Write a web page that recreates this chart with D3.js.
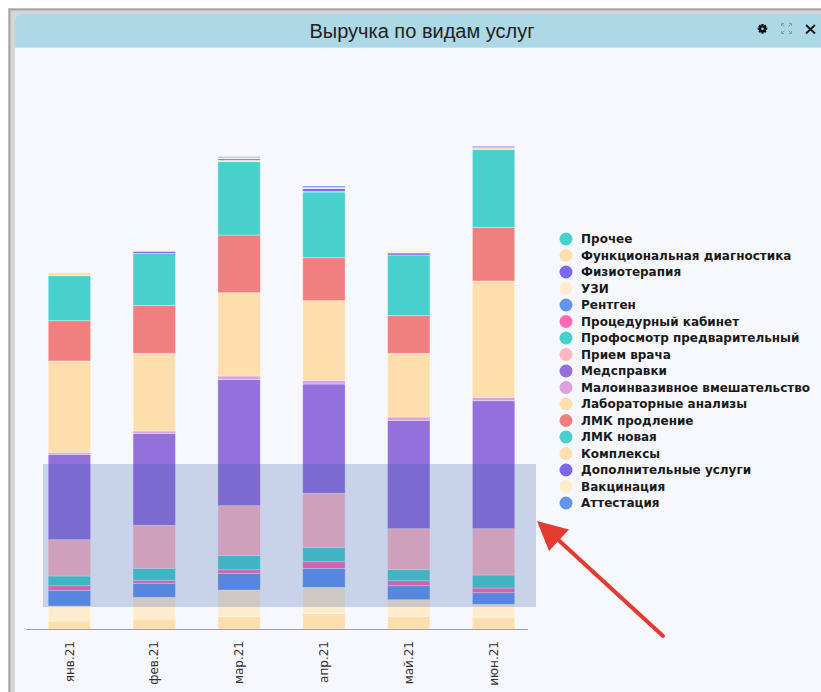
<!DOCTYPE html>
<html>
<head>
<meta charset="utf-8">
<script src="https://cdn.jsdelivr.net/npm/d3@7"></script>
<style>
  html, body { margin: 0; padding: 0; background: #ffffff; }
  svg { display: block; }
</style>
</head>
<body>
<svg id="chart" width="821" height="692"></svg>
<script>
// Months on the x axis
const months = ["янв.21", "фев.21", "мар.21", "апр.21", "май.21", "июн.21"];

// Service types, in stacking order from the bottom of each bar upward
const services = [
  "Прочее", "Функциональная диагностика", "Физиотерапия", "УЗИ", "Рентген",
  "Процедурный кабинет", "Профосмотр предварительный", "Прием врача", "Медсправки",
  "Малоинвазивное вмешательство", "Лабораторные анализы", "ЛМК продление",
  "ЛМК новая", "Комплексы", "Дополнительные услуги", "Вакцинация", "Аттестация"
];

// Revenue per service, thousand roubles, one value per month
const prochee        = [0, 0, 0, 0, 0, 0];
const funkcDiag      = [80, 100, 123, 157, 127, 113];
const fizio          = [0, 0, 0, 0, 0, 0];
const uzi            = [150, 217, 267, 260, 166, 134];
const rentgen        = [157, 137, 167, 190, 140, 116];
const procedurnyi    = [46, 33, 36, 66, 50, 47];
const profosmotr     = [97, 120, 144, 144, 110, 130];
const priemVracha    = [363, 430, 496, 540, 410, 463];
const medspravki     = [854, 920, 1264, 1093, 1084, 1280];
const maloinvaziv    = [20, 23, 33, 33, 33, 34];
const laboratornye   = [913, 777, 833, 800, 637, 1163];
const lmkProdlenie   = [403, 477, 577, 430, 376, 537];
const lmkNovaya      = [450, 523, 733, 657, 607, 780];
const kompleksy      = [30, 0, 15, 5, 0, 17];
const dopUslugi      = [0, 20, 15, 30, 20, 13];
const vakcinaciya    = [0, 13, 10, 10, 27, 0];
const attestaciya    = [0, 0, 10, 15, 0, 0];

const seriesValues = [
  prochee, funkcDiag, fizio, uzi, rentgen, procedurnyi, profosmotr, priemVracha,
  medspravki, maloinvaziv, laboratornye, lmkProdlenie, lmkNovaya, kompleksy,
  dopUslugi, vakcinaciya, attestaciya
];

const serviceColors = [
  "#48d1cc", "#ffdead", "#7b68ee", "#ffebcd", "#6495ed", "#ff69b4", "#48d1cc",
  "#ffb6c1", "#9370db", "#dda0dd", "#ffdead", "#f08080", "#48d1cc", "#ffdead",
  "#7b68ee", "#ffebcd", "#6495ed"
];

// Highlighted value band (thousand roubles)
const highlightBand = [220, 1650];

// Build row-per-month table for d3.stack
const table = months.map((m, i) => {
  const row = { month: m };
  services.forEach((s, j) => { row[s] = seriesValues[j][i]; });
  return row;
});

const svg = d3.select("#chart");
const W = 821, H = 692;

// ---- window frame ----
svg.append("rect").attr("x", 8).attr("y", 8).attr("width", W).attr("height", H)
  .attr("fill", "#d6d6d6");
svg.append("path").attr("d", `M9.5,${H} V9.5 H${W}`)
  .attr("fill", "none").attr("stroke", "#a8a8a8").attr("stroke-width", 2);

// panel with rounded top-left corner
const px = 15, py = 14, r = 7;
svg.append("path")
  .attr("d", `M${px},${H} V${py + r} Q${px},${py} ${px + r},${py} H${W} V${H} Z`)
  .attr("fill", "#f7f8fd");
svg.append("path")
  .attr("d", `M${px},47 V${py + r} Q${px},${py} ${px + r},${py} H${W} V47 Z`)
  .attr("fill", "#add8e6");
svg.append("line").attr("x1", px).attr("x2", W).attr("y1", 47.5).attr("y2", 47.5)
  .attr("stroke", "#c9e3ee").attr("stroke-width", 1);

svg.append("text")
  .attr("x", 422).attr("y", 38)
  .attr("text-anchor", "middle")
  .attr("font-family", "'Liberation Sans Narrow', 'Arial Narrow', 'Liberation Sans', sans-serif")
  .attr("font-size", 20)
  .attr("fill", "#222")
  .text("Выручка по видам услуг");

// header icons: gear, expand, close
const gear = svg.append("g").attr("transform", "translate(762.5,28.8)");
d3.range(8).forEach(k => {
  gear.append("rect").attr("x", -1.2).attr("y", -4.8).attr("width", 2.4).attr("height", 2.4)
    .attr("fill", "#111").attr("transform", `rotate(${k * 45})`);
});
gear.append("circle").attr("r", 3.4).attr("fill", "#111");
gear.append("circle").attr("r", 1.3).attr("fill", "#add8e6");

const exp = svg.append("g").attr("transform", "translate(786.5,28.5)")
  .attr("stroke", "#8c9aa0").attr("stroke-width", 1).attr("fill", "none");
[[-1, -1], [1, -1], [-1, 1], [1, 1]].forEach(([sx, sy]) => {
  exp.append("path").attr("d",
    `M${sx * 5},${sy * 2.5} V${sy * 5} H${sx * 2.5} M${sx * 5},${sy * 5} L${sx * 2},${sy * 2}`);
});

svg.append("path").attr("d", "M806,25 L815,33.5 M815,25 L806,33.5")
  .attr("stroke", "#111").attr("stroke-width", 1.8).attr("fill", "none");

// ---- chart ----
const x = d3.scaleBand().domain(months).range([27, 536]).paddingInner(0.5).paddingOuter(0.25);
const y = d3.scaleLinear().domain([0, 5000]).range([629, 129]);
const color = d3.scaleOrdinal().domain(services).range(serviceColors);

const stacked = d3.stack().keys(services)(table);

const layers = svg.append("g").selectAll("g").data(stacked).join("g")
  .attr("fill", d => color(d.key));
layers.selectAll("rect").data(d => d).join("rect")
  .attr("x", d => x(d.data.month))
  .attr("width", x.bandwidth())
  .attr("y", d => y(d[1]))
  .attr("height", d => Math.max(0, y(d[0]) - y(d[1])))
  .attr("stroke", "#ffffff").attr("stroke-opacity", 0.45).attr("stroke-width", 0.8);

// x axis
const xAxis = svg.append("g").attr("transform", "translate(0,629)")
  .call(d3.axisBottom(x).tickSize(0).tickPadding(0));
xAxis.select(".domain").attr("d", "M26,0.5H528").attr("stroke", "#a0a0a0").attr("stroke-width", 1.2);
xAxis.selectAll(".tick text")
  .attr("transform", "rotate(-90)")
  .attr("text-anchor", "end")
  .attr("x", -12).attr("y", 0).attr("dy", "0.35em")
  .attr("font-family", "'DejaVu Sans', Verdana, sans-serif")
  .attr("font-size", 12)
  .attr("fill", "#333");

// highlight band over the lower part of the bars
svg.append("rect")
  .attr("x", 43).attr("width", 493)
  .attr("y", y(highlightBand[1])).attr("height", y(highlightBand[0]) - y(highlightBand[1]))
  .attr("fill", "rgb(45,85,170)").attr("fill-opacity", 0.23);

// legend, listed in the same order as the series
const legend = svg.append("g").attr("transform", "translate(566,239)");
const li = legend.selectAll("g").data(services).join("g")
  .attr("transform", (d, i) => `translate(0,${i * 16.5})`);
li.append("circle").attr("r", 6.5).attr("fill", d => color(d));
li.append("text").attr("x", 15).attr("dy", "0.35em")
  .attr("font-family", "'DejaVu Sans', Verdana, sans-serif")
  .attr("font-weight", "bold").attr("font-size", 12).attr("fill", "#1a1a1a")
  .text(d => d);

// pointer arrow
svg.append("line").attr("x1", 663).attr("y1", 636).attr("x2", 553).attr("y2", 535)
  .attr("stroke", "#e53b2f").attr("stroke-width", 4).attr("stroke-linecap", "round");
svg.append("path").attr("d", "M537,521 L569,529.5 L549,551 Z").attr("fill", "#e53b2f");
</script>
</body>
</html>
